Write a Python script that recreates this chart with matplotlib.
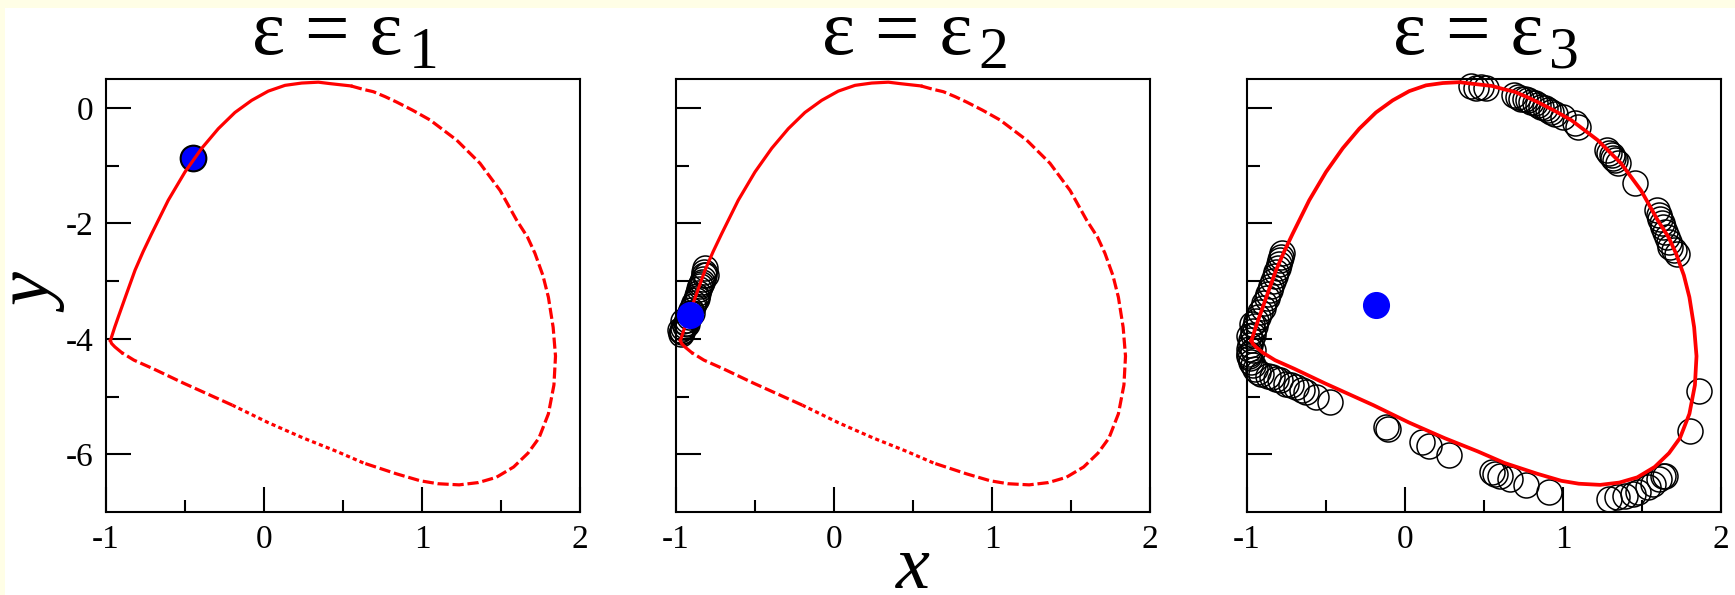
import matplotlib
matplotlib.use('Agg')
import matplotlib.pyplot as plt
from matplotlib.patches import Rectangle

# ---------------- data ----------------
# limit cycle (same in all panels): up the left branch, over the top,
# down the right side and back along the lower branch
cycle_x = [-0.972, -0.945, -0.922, -0.870, -0.816, -0.765, -0.711, -0.606, -0.500,
           -0.394, -0.289, -0.184, -0.078, 0.027, 0.133, 0.239, 0.344, 0.418,
           0.550, 0.629, 0.692, 0.766, 0.840, 0.940, 1.051, 1.220, 1.367, 1.494,
           1.541, 1.600, 1.668, 1.715, 1.765, 1.800, 1.830, 1.845, 1.835, 1.800,
           1.740, 1.671, 1.580, 1.470, 1.357, 1.235, 1.100, 0.990, 0.840, 0.629,
           0.460, 0.250, 0.025, -0.200, -0.508, -0.700, -0.823, -0.900, -0.944,
           -0.965, -0.972]
cycle_y = [-4.03, -3.80, -3.62, -3.22, -2.81, -2.49, -2.18, -1.60, -1.11,
           -0.70, -0.36, -0.08, 0.13, 0.29, 0.39, 0.43, 0.445, 0.42,
           0.38, 0.32, 0.28, 0.195, 0.10, -0.04, -0.21, -0.56, -0.96, -1.43,
           -1.66, -1.95, -2.24, -2.52, -2.90, -3.28, -3.80, -4.30, -4.80, -5.30,
           -5.72, -5.98, -6.22, -6.40, -6.49, -6.53, -6.51, -6.46, -6.34, -6.15,
           -5.95, -5.72, -5.45, -5.15, -4.77, -4.52, -4.37, -4.24, -4.14,
           -4.08, -4.03]

# blue points (initial conditions)
blue_x = [-0.451, -0.911, -0.186]
blue_y = [-0.867, -3.59, -3.42]

# open circles, panel 2
c2_x = [-0.815, -0.820, -0.825, -0.830, -0.838, -0.845, -0.852, -0.860, -0.868,
        -0.876, -0.885, -0.893, -0.902, -0.911, -0.920, -0.929, -0.938, -0.946,
        -0.953, -0.960, -0.965, -0.968, -0.810, -0.840, -0.870, -0.900, -0.930,
        -0.955, -0.975]
c2_y = [-2.78, -2.84, -2.90, -2.96, -3.02, -3.08, -3.14, -3.20, -3.26,
        -3.32, -3.38, -3.44, -3.50, -3.56, -3.62, -3.68, -3.73, -3.78,
        -3.82, -3.86, -3.89, -3.92, -2.90, -3.05, -3.30, -3.55, -3.75,
        -3.70, -3.85]

# open circles, panel 3
c3_x = [-0.776, -0.785, -0.790, -0.800, -0.805, -0.815, -0.825, -0.835, -0.845,
        -0.855, -0.865, -0.875, -0.890, -0.900, -0.915, -0.930,
        -0.940, -0.950, -0.960, -0.965, -0.975, -0.980, -0.985, -0.985, -0.980,
        -0.975, -0.965, -0.950, -0.930, -0.910, -0.970, -0.990, -0.990, -0.960,
        -0.870, -0.840, -0.816, -0.790, -0.752, -0.720, -0.689, -0.655, -0.625,
        -0.561, -0.477,
        -0.123, -0.106, 0.106, 0.155, 0.276, 0.551, 0.572, 0.604, 0.667, 0.763,
        0.911, 1.293, 1.340, 1.392, 1.446, 1.473, 1.541, 1.568, 1.605, 1.632,
        1.647,
        1.806, 1.863,
        1.594, 1.605, 1.615, 1.625, 1.636, 1.647, 1.657, 1.668, 1.678, 1.700,
        1.720,
        1.276, 1.290, 1.308, 1.318, 1.329, 1.350, 1.456,
        0.693, 0.715, 0.736, 0.757, 0.778, 0.800, 0.821, 0.842, 0.863, 0.884,
        0.905, 0.926, 0.947, 1.000, 1.075, 1.096,
        0.418, 0.449, 0.481, 0.513]
c3_y = [-2.52, -2.58, -2.64, -2.70, -2.78, -2.85, -2.92, -3.00, -3.08,
        -3.15, -3.22, -3.30, -3.38, -3.46, -3.54, -3.62,
        -3.70, -3.78, -3.86, -3.94, -4.02, -4.10, -4.18, -4.26, -4.34,
        -4.40, -4.46, -4.52, -4.57, -4.61, -3.75, -3.95, -4.30, -4.20,
        -4.64, -4.66, -4.69, -4.72, -4.78, -4.80, -4.84, -4.88, -4.92,
        -5.01, -5.09,
        -5.52, -5.56, -5.79, -5.85, -6.02, -6.31, -6.34, -6.37, -6.43, -6.54,
        -6.66, -6.77, -6.74, -6.72, -6.69, -6.66, -6.57, -6.51, -6.43, -6.37,
        -6.37,
        -5.59, -4.91,
        -1.77, -1.85, -1.92, -2.00, -2.06, -2.15, -2.24, -2.32, -2.41, -2.47,
        -2.53,
        -0.73, -0.78, -0.82, -0.87, -0.91, -0.96, -1.30,
        0.22, 0.19, 0.16, 0.15, 0.13, 0.11, 0.08, 0.05, 0.02, -0.01,
        -0.04, -0.07, -0.10, -0.16, -0.27, -0.33,
        0.38, 0.35, 0.36, 0.34]

title_main = 'ε = ε'
subscripts = ['1', '2', '3']
xticks_major = [-1, 0, 1, 2]
xtick_labels = ['-1', '0', '1', '2']
xticks_minor = [-0.5, 0.5, 1.5]
yticks_major = [0, -2, -4, -6]
ytick_labels = ['0', '-2', '-4', '-6']
yticks_minor = [-1, -3, -5]

# ---------------- styling ----------------
plt.rcParams['font.family'] = ['Liberation Serif', 'DejaVu Serif']
plt.rcParams['axes.unicode_minus'] = False

W, H = 1735, 595
fig = plt.figure(figsize=(W / 100, H / 100), dpi=100, facecolor='white')
yellow = '#fffee6'
fig.patches.append(Rectangle((0, 1 - 8 / H), 1, 8 / H, transform=fig.transFigure,
                             facecolor=yellow, edgecolor='none', zorder=-5))
fig.patches.append(Rectangle((0, 0), 5 / W, 1, transform=fig.transFigure,
                             facecolor=yellow, edgecolor='none', zorder=-5))

lefts = [106, 676, 1247]
ax_w, ax_h, ax_bottom, ax_top = 474, 433, 83, 79
axes = [fig.add_axes([l / W, ax_bottom / H, ax_w / W, ax_h / H]) for l in lefts]

red_lw = 2.3
dash = (0, (3.5, 1.2))
dot = (0, (1.3, 1.0))


def draw_cycle(ax, broken, lw):
    if not broken:
        ax.plot(cycle_x, cycle_y, color='red', lw=lw, zorder=3,
                solid_joinstyle='round')
        return
    n = len(cycle_x)
    segs = [(0, 19, '-'), (18, 48, dash), (47, 52, dot), (51, 56, dash), (55, n, '-')]
    for a, b, ls in segs:
        ax.plot(cycle_x[a:b], cycle_y[a:b], color='red', lw=lw, ls=ls, zorder=3,
                solid_joinstyle='round')


for i, ax in enumerate(axes):
    ax.set_xlim(-1, 2)
    ax.set_ylim(-7, 0.5)
    ax.set_xticks(xticks_major)
    ax.set_xticklabels(xtick_labels)
    ax.set_xticks(xticks_minor, minor=True)
    ax.set_yticks(yticks_major)
    ax.set_yticks(yticks_minor, minor=True)
    if i == 0:
        ax.set_yticklabels(ytick_labels)
    else:
        ax.set_yticklabels([])
    ax.tick_params(which='both', direction='in', top=False, right=False,
                   width=1.5, color='black')
    ax.tick_params(which='major', length=18)
    ax.tick_params(which='minor', length=9)
    ax.tick_params(axis='x', labelsize=24, pad=9)
    ax.tick_params(axis='y', labelsize=24, pad=9)
    for s in ax.spines.values():
        s.set_linewidth(1.5)
    # title: main part and subscript
    ax.text(0.5 - 15.6 / ax_w, 1 + (ax_top - 54) / ax_h, title_main,
            transform=ax.transAxes, ha='center', va='baseline', fontsize=57)
    ax.text(0.5 + 80.3 / ax_w, 1 + (ax_top - 68) / ax_h, subscripts[i],
            transform=ax.transAxes, ha='center', va='baseline', fontsize=43)

# panel 1
draw_cycle(axes[0], True, red_lw)
axes[0].plot(blue_x[0], blue_y[0], 'o', ms=18.5, mfc='blue', mec='black',
             mew=1.5, zorder=2)

# panel 2
axes[1].plot(c2_x, c2_y, 'o', ms=18, mfc='none', mec='black', mew=1.1,
             zorder=2, clip_on=False)
draw_cycle(axes[1], True, red_lw)
axes[1].plot(blue_x[1], blue_y[1], 'o', ms=18.5, mfc='blue', mec='blue',
             mew=1, zorder=4)

# panel 3
axes[2].plot(c3_x, c3_y, 'o', ms=18, mfc='none', mec='black', mew=1.1,
             zorder=2, clip_on=False)
draw_cycle(axes[2], False, 2.7)
axes[2].plot(blue_x[2], blue_y[2], 'o', ms=18.5, mfc='blue', mec='blue',
             mew=1, zorder=4)

# axis labels
fig.text(913 / W, 7 / H, 'x', fontsize=55, style='italic', ha='center',
         va='baseline')
fig.text(37 / W, 1 - 295.5 / H, 'y', fontsize=55, style='italic', rotation=90,
         ha='center', va='center')

fig.savefig('out.png', dpi=100, facecolor=fig.get_facecolor())
